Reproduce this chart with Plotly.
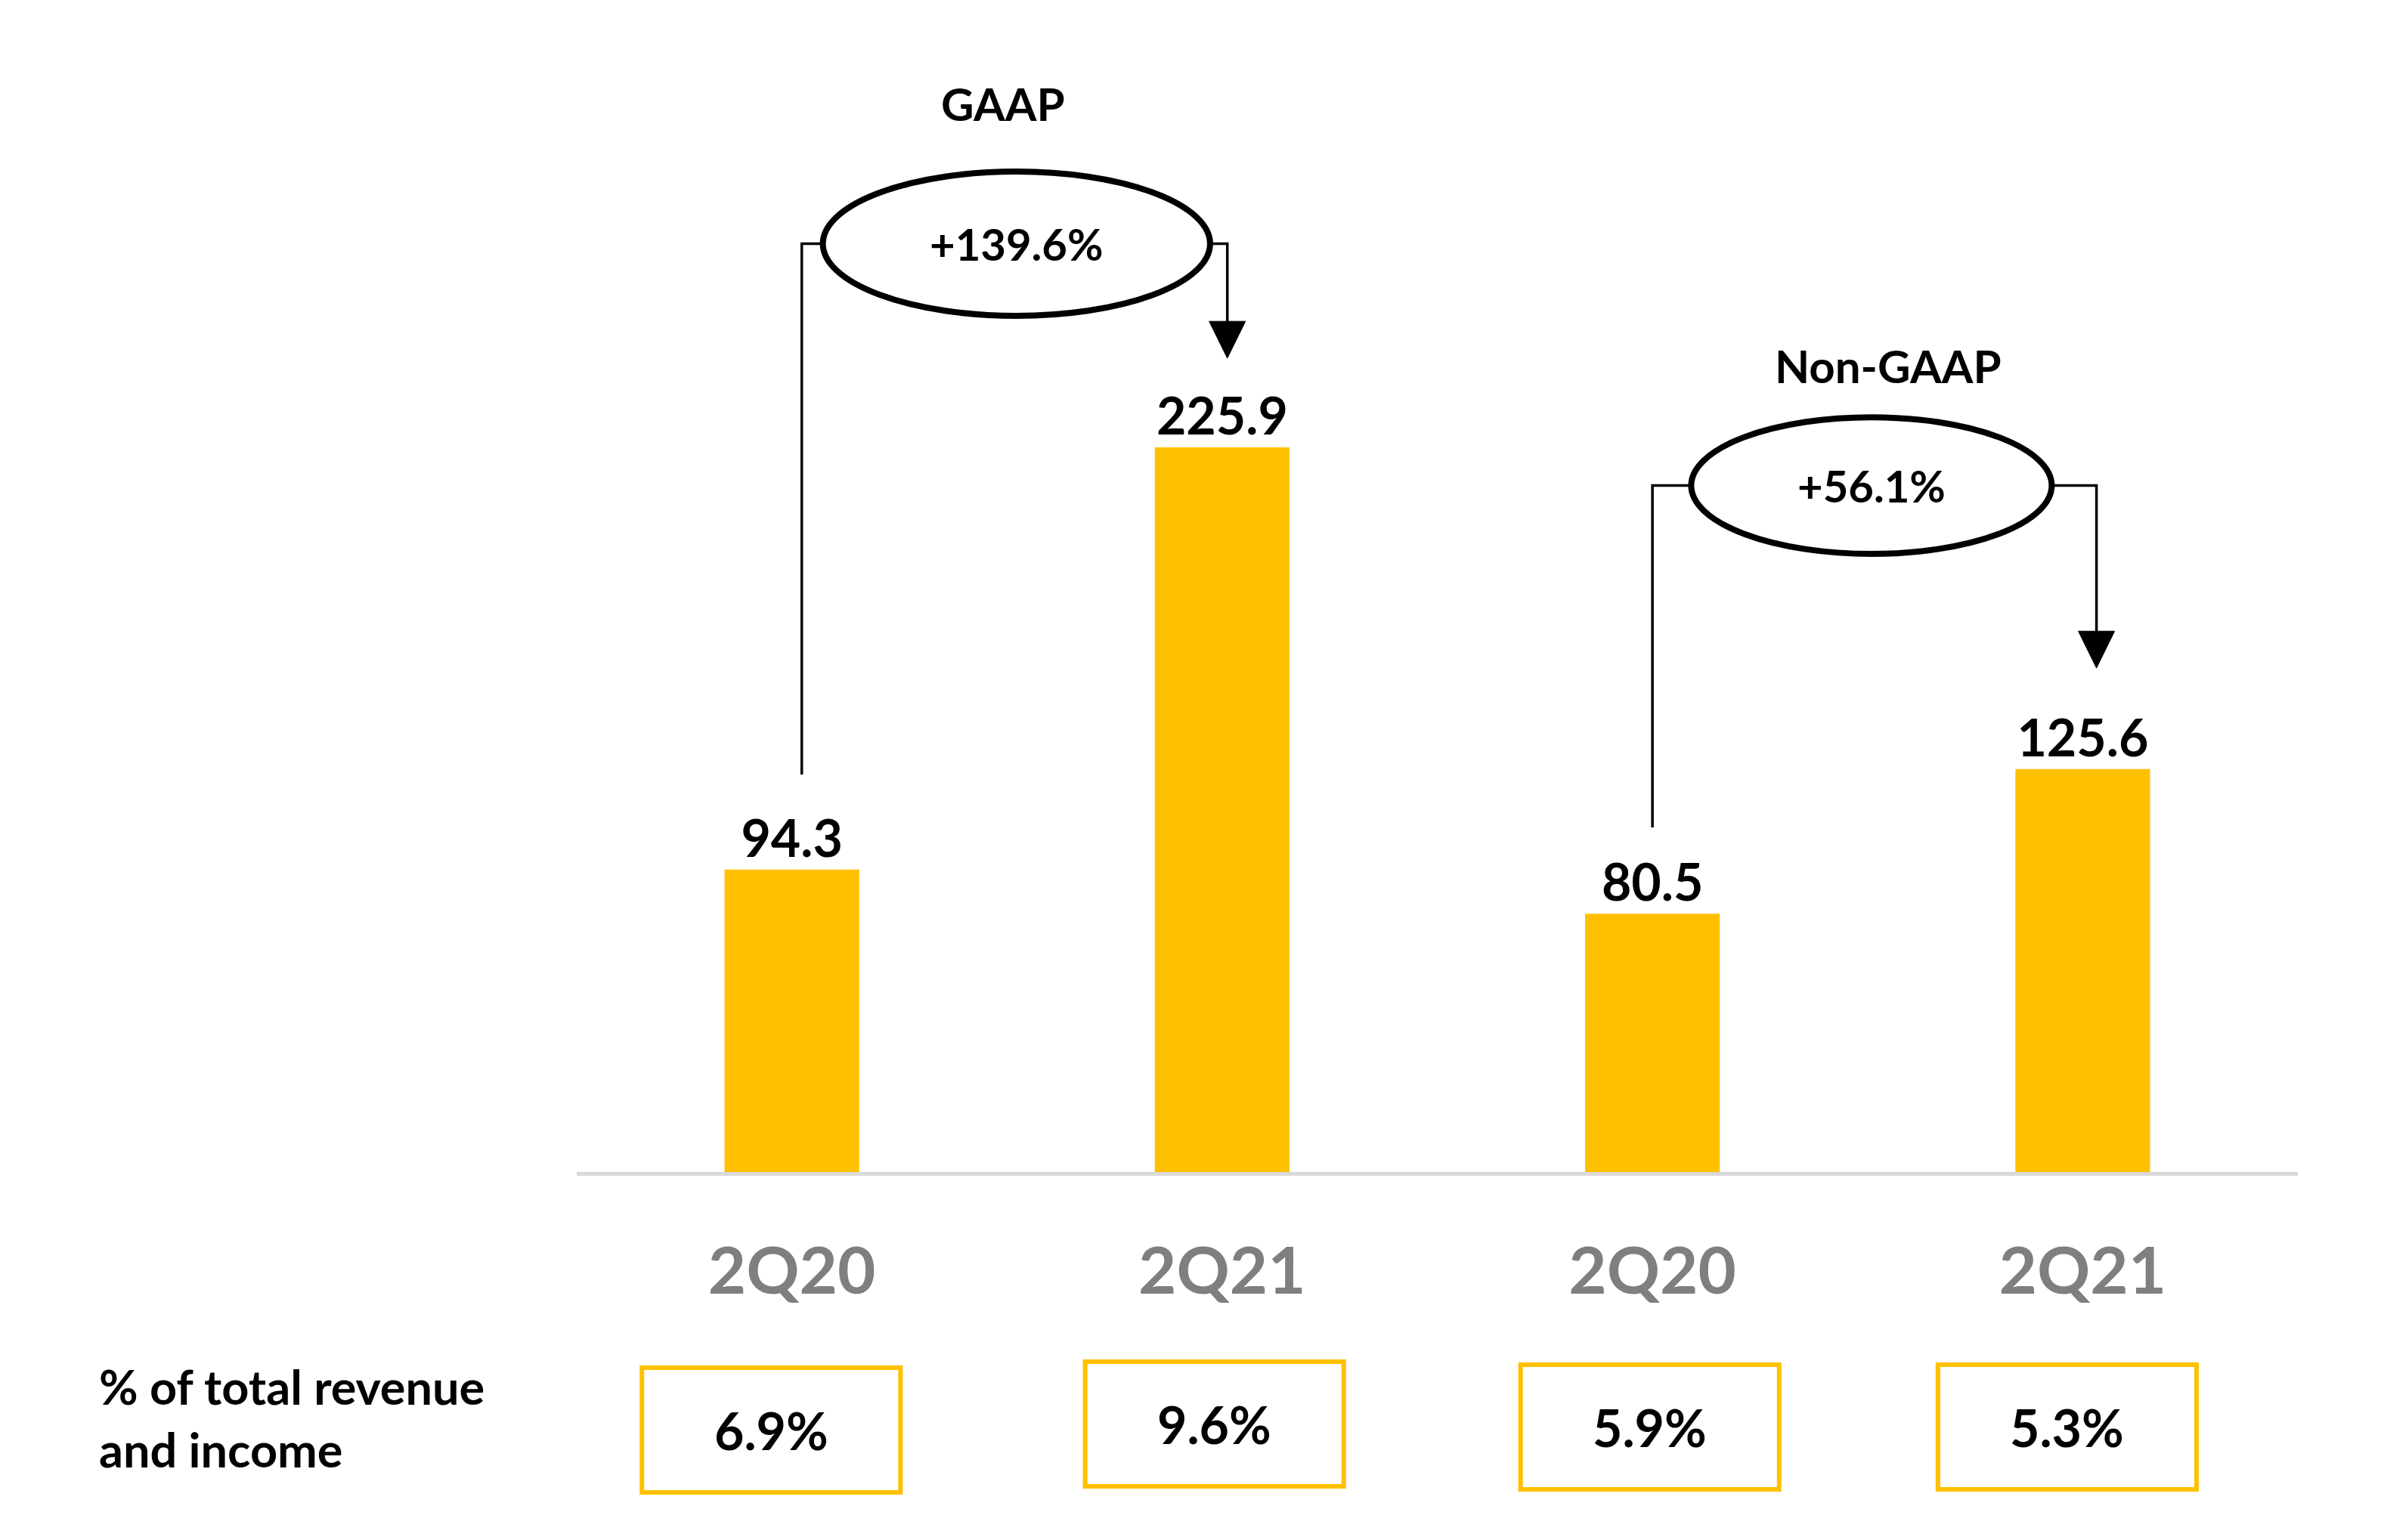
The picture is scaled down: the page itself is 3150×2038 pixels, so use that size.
import plotly.graph_objects as go

# ---------------- data ----------------
categories = ["2Q20", "2Q21", "2Q20", "2Q21"]
values = [94.3, 225.9, 80.5, 125.6]
value_labels = ["94.3", "225.9", "80.5", "125.6"]
pct_of_revenue = ["6.9%", "9.6%", "5.9%", "5.3%"]
groups = ["GAAP", "Non-GAAP"]
group_pairs = [(0, 1), (2, 3)]
growth = ["+139.6%", "+56.1%"]
row_label = ["% of total revenue", "and income"]

# ---------------- layout constants ----------------
W, H = 3150, 2038
ML, MR, MT, MB = 763, 110, 0, 487
plot_w = W - ML - MR
plot_h = H - MT - MB
PX_PER_UNIT = 4.245
YMAX = plot_h / PX_PER_UNIT
XMIN, XMAX = -0.5, len(values) - 0.5
PX_PER_X = plot_w / (XMAX - XMIN)

FONT = "Lato, 'Open Sans', 'DejaVu Sans', sans-serif"
GOLD = "#FFC000"
GREY = "#7F7F7F"


def paper_x(xd):
    return (xd - XMIN) / (XMAX - XMIN)


def paper_y(py):
    return (MT + plot_h - py) / plot_h


x = list(range(len(values)))

fig = go.Figure()
fig.add_trace(go.Bar(
    x=x, y=values, width=0.313,
    marker=dict(color=GOLD, line=dict(width=0)),
    text=["<b>%s</b>" % t for t in value_labels],
    textposition="outside",
    textfont=dict(family=FONT, size=68, color="black"),
    cliponaxis=False,
    hoverinfo="skip",
))

shapes = []
annotations = []

# growth callouts
ell_cx_off = [0.022, 0.009]     # ellipse centre offset from pair midpoint
ell_cy = [289.4, 214.0]
ell_hw = [0.450, 0.419]
ell_hh = [22.5, 21.3]
left_off = [0.023, 0.0]
right_off = [0.012, 0.032]
start_gap = [29.6, 26.9]
tip_gap = [27.8, 31.5]
title_pos = [(-0.009, 333.0), (0.048, 251.4)]
ARROW_LEN = 11.5
ARROW_HW = 24 / PX_PER_X

for g, (i0, i1) in enumerate(group_pairs):
    mid = (i0 + i1) / 2
    cx = mid + ell_cx_off[g]
    cy = ell_cy[g]
    shapes.append(dict(type="circle", xref="x", yref="y",
                       x0=cx - ell_hw[g], x1=cx + ell_hw[g],
                       y0=cy - ell_hh[g], y1=cy + ell_hh[g],
                       line=dict(color="black", width=8), fillcolor="white",
                       layer="above"))
    xl = i0 + left_off[g]
    y_start = values[i0] + start_gap[g]
    shapes.append(dict(type="path", xref="x", yref="y",
                       path="M %f,%f L %f,%f L %f,%f" % (xl, y_start, xl, cy, cx - ell_hw[g], cy),
                       line=dict(color="black", width=3.5), layer="below"))
    xr = i1 + right_off[g]
    tip = values[i1] + tip_gap[g]
    shapes.append(dict(type="path", xref="x", yref="y",
                       path="M %f,%f L %f,%f L %f,%f" % (cx + ell_hw[g], cy, xr, cy, xr, tip + ARROW_LEN * 0.9),
                       line=dict(color="black", width=3.5), layer="below"))
    shapes.append(dict(type="path", xref="x", yref="y",
                       path="M %f,%f L %f,%f L %f,%f Z" % (xr - ARROW_HW, tip + ARROW_LEN,
                                                         xr + ARROW_HW, tip + ARROW_LEN, xr, tip),
                       line=dict(color="black", width=1), fillcolor="black", layer="above"))
    annotations.append(dict(xref="x", yref="y", x=cx, y=cy, text="<b>%s</b>" % growth[g],
                            showarrow=False, xanchor="center", yanchor="middle",
                            font=dict(family=FONT, size=58, color="black")))
    tx, ty = title_pos[g]
    annotations.append(dict(xref="x", yref="y", x=mid + tx, y=ty, text="<b>%s</b>" % groups[g],
                            showarrow=False, xanchor="center", yanchor="middle",
                            font=dict(family=FONT, size=60, color="black")))

# percentage boxes
box_off = [-0.048, -0.018, -0.006, -0.036]
box_top_px = [1810, 1802, 1806, 1806]
BOX_W = 0.601
BOX_H_PX = 165
for i, t in enumerate(pct_of_revenue):
    cx = i + box_off[i]
    shapes.append(dict(type="rect", xref="paper", yref="paper",
                       x0=paper_x(cx - BOX_W / 2), x1=paper_x(cx + BOX_W / 2),
                       y0=paper_y(box_top_px[i] + BOX_H_PX), y1=paper_y(box_top_px[i]),
                       line=dict(color=GOLD, width=6), fillcolor="rgba(0,0,0,0)"))
    annotations.append(dict(xref="paper", yref="paper", x=paper_x(cx),
                            y=paper_y(box_top_px[i] + BOX_H_PX / 2),
                            text="<b>%s</b>" % t, showarrow=False,
                            xanchor="center", yanchor="middle",
                            font=dict(family=FONT, size=68, color="black")))

# row label
row_px = [1834, 1917]
for line, py in zip(row_label, row_px):
    annotations.append(dict(xref="paper", yref="paper", x=(129 - ML) / plot_w, y=paper_y(py),
                            text="<b>%s</b>" % line, showarrow=False,
                            xanchor="left", yanchor="middle",
                            font=dict(family=FONT, size=63, color="black")))

fig.update_layout(
    width=W, height=H,
    margin=dict(l=ML, r=MR, t=MT, b=MB, pad=0),
    paper_bgcolor="white", plot_bgcolor="white",
    showlegend=False,
    shapes=shapes, annotations=annotations,
    xaxis=dict(range=[XMIN, XMAX], tickmode="array", tickvals=x,
               ticktext=["<b>%s</b>" % c for c in categories],
               tickfont=dict(family=FONT, size=87, color=GREY),
               ticks="outside", ticklen=52, tickcolor="rgba(0,0,0,0)",
               showline=True, linecolor="#D9D9D9", linewidth=5,
               showgrid=False, zeroline=False, fixedrange=True),
    yaxis=dict(range=[0, YMAX], visible=False, showgrid=False, zeroline=False,
               fixedrange=True),
)

fig.write_html("out.html", config={"displayModeBar": False},
               post_script="document.body.style.margin='0';document.body.style.overflow='hidden';")
